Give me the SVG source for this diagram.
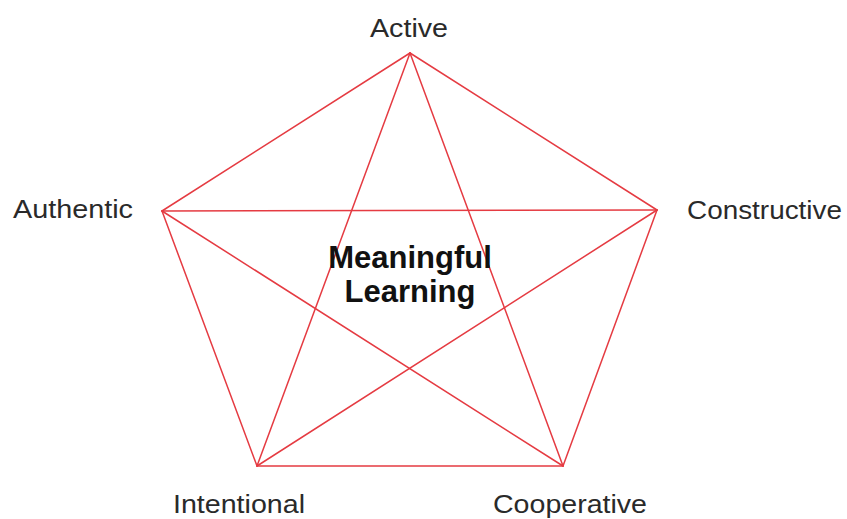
<svg xmlns="http://www.w3.org/2000/svg" width="847" height="519" viewBox="0 0 847 519">
<style>
.e{stroke:#e53b42;stroke-width:1.5;fill:none;stroke-linecap:round}
.l{font-family:"Liberation Sans",Arial,sans-serif;font-size:26px;fill:#2a2a2a}
.c{font-family:"Liberation Sans",Arial,sans-serif;font-size:31px;font-weight:bold;fill:#111;text-anchor:middle}
</style>
<rect width="847" height="519" fill="#fff"/>
<g id="connectors">
<line class="e" x1="410" y1="53" x2="162" y2="211"/>
<line class="e" x1="410" y1="53" x2="657" y2="210"/>
<line class="e" x1="162" y1="211" x2="257" y2="466"/>
<line class="e" x1="657" y1="210" x2="563" y2="466"/>
<line class="e" x1="257" y1="466" x2="563" y2="466"/>
<line class="e" x1="410" y1="53" x2="257" y2="466"/>
<line class="e" x1="410" y1="53" x2="563" y2="466"/>
<line class="e" x1="162" y1="211" x2="657" y2="210"/>
<line class="e" x1="162" y1="211" x2="563" y2="466"/>
<line class="e" x1="657" y1="210" x2="257" y2="466"/>
</g>
<g id="active"><text class="l" x="370" y="37" textLength="78" lengthAdjust="spacingAndGlyphs">Active</text></g>
<g id="authentic"><text class="l" x="13" y="218" textLength="120" lengthAdjust="spacingAndGlyphs">Authentic</text></g>
<g id="constructive"><text class="l" x="687" y="219" textLength="155" lengthAdjust="spacingAndGlyphs">Constructive</text></g>
<g id="intentional"><text class="l" x="173" y="513" textLength="132" lengthAdjust="spacingAndGlyphs">Intentional</text></g>
<g id="cooperative"><text class="l" x="493" y="513" textLength="154" lengthAdjust="spacingAndGlyphs">Cooperative</text></g>
<g id="center">
<text class="c" x="410" y="268">Meaningful</text>
<text class="c" x="410" y="302">Learning</text>
</g>
</svg>
